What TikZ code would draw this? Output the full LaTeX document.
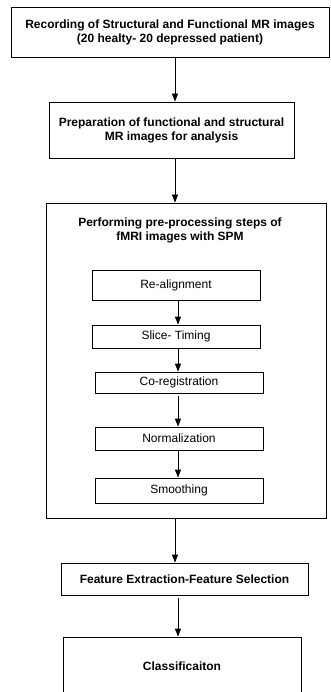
\documentclass[tikz,border=0pt]{standalone}
\usepackage{fontspec}
\setmainfont{Liberation Sans}
\usetikzlibrary{arrows.meta}
\tikzset{
  blk/.style={draw, line width=0.8pt, align=center, font=\fontsize{12}{14}\selectfont\bfseries, inner sep=0pt},
  stp/.style={draw, line width=0.8pt, align=center, font=\fontsize{12}{14}\selectfont, inner sep=0pt, minimum width=168pt},
  arr/.style={line width=0.8pt, -{Triangle[length=8pt,width=6pt]}}
}
\begin{document}
\begin{tikzpicture}[x=1pt,y=-1pt]
    \useasboundingbox (0,0) rectangle (330,692);
    \coordinate (spine) at (175,0);
    \coordinate (ispine) at (178,0);
    %
    \node[blk, minimum width=318pt, minimum height=50pt] (rec) at (170,32)
      {Recording of Structural and Functional MR images\\(20 healty- 20 depressed patient)};
    \node[blk, minimum width=245pt, minimum height=56pt] (prep) at (171.5,130)
      {Preparation of functional and structural\\MR images for analysis};
    \node[blk, minimum width=280pt, minimum height=315pt] (pre) at (186,360.5) {};
    \node[font=\fontsize{12}{14}\selectfont\bfseries, align=center] (pretitle) at (180,230)
      {Performing pre-processing steps of\\fMRI images with SPM};
    %
    \node[stp, minimum height=30pt] (realign) at (176,285) {Re-alignment};
    \node[stp, minimum height=23pt] (slice) at (176,336.5) {Slice- Timing};
    \node[stp, minimum height=21pt] (coreg) at (179,382.5) {Co-registration};
    \node[stp, minimum height=23pt] (norm) at (179,438.5) {Normalization};
    \node[stp, minimum height=25pt] (smooth) at (179,490.5) {Smoothing};
    %
    \node[blk, minimum width=247pt, minimum height=32pt] (feat) at (184.5,579)
      {Feature Extraction-Feature Selection};
    \node[blk, minimum width=238pt, minimum height=58pt] (cls) at (182,666) {Classificaiton};
    %
    \draw[arr] (rec.south -| spine) -- (prep.north -| spine);
    \draw[arr] (prep.south -| spine) -- (pre.north -| spine);
    \draw[arr] (realign.south -| ispine) -- (slice.north -| ispine);
    \draw[arr] (slice.south -| ispine) -- (coreg.north -| ispine);
    \draw[arr] ([yshift=-3pt]coreg.south -| ispine) -- (norm.north -| ispine);
    \draw[arr] (norm.south -| ispine) -- (smooth.north -| ispine);
    \draw[arr] (pre.south -| spine) -- (feat.north -| spine);
    \draw[arr] ([yshift=-3pt]feat.south -| ispine) -- (cls.north -| ispine);
\end{tikzpicture}
\end{document}
